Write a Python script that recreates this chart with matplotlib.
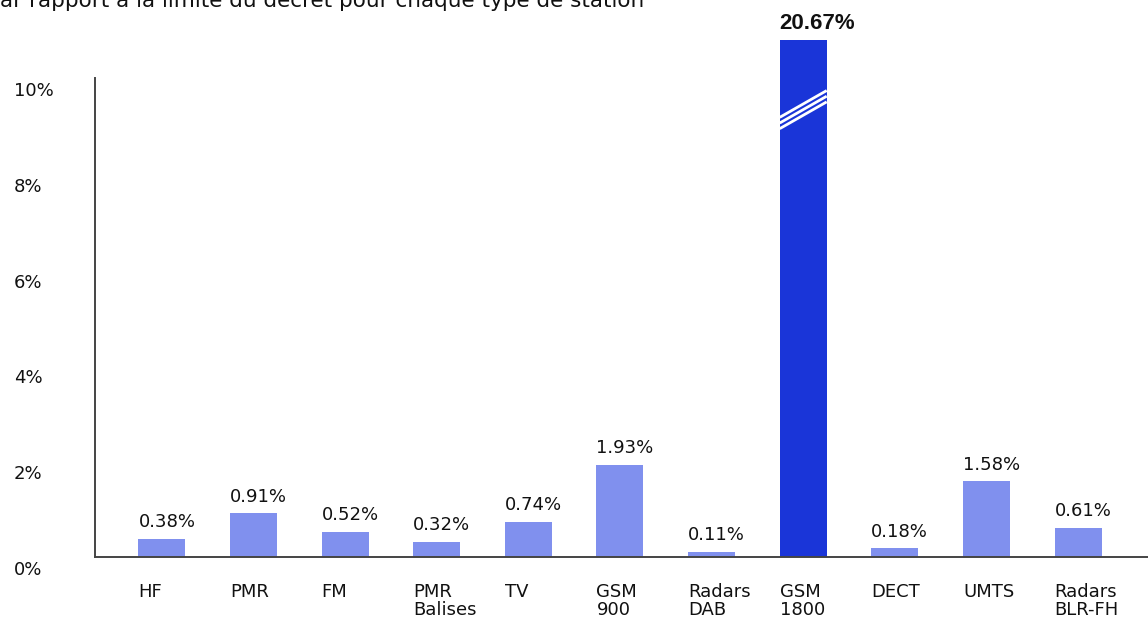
import numpy as np
import matplotlib.pyplot as plt
import matplotlib.transforms as mtransforms

# Data
categories = ["HF", "PMR", "FM", "PMR\nBalises", "TV", "GSM\n900", "Radars\nDAB",
              "GSM\n1800", "DECT", "UMTS", "Radars\nBLR-FH"]
values = [0.38, 0.91, 0.52, 0.32, 0.74, 1.93, 0.11, 20.67, 0.18, 1.58, 0.61]
value_labels = ["0.38%", "0.91%", "0.52%", "0.32%", "0.74%", "1.93%", "0.11%",
                "20.67%", "0.18%", "1.58%", "0.61%"]
y_ticks = [0, 2, 4, 6, 8, 10]
y_tick_labels = ["0%", "2%", "4%", "6%", "8%", "10%"]
caption = "ar rapport à la limite du décret pour chaque type de station"

plt.rcParams['font.family'] = ['DejaVu Sans']

W, H = 1148, 619
fig = plt.figure(figsize=(W / 100, H / 100), dpi=100)
ax = fig.add_axes([95 / W, 62 / H, 1 - 95 / W, 479 / H])

light = '#8090ee'
dark = '#1a35d8'
txt = '#111111'
cap = 10.8            # off-scale bar is drawn broken at this height
width = 0.513

x = np.arange(len(values))
vals = np.array(values)
shown = np.minimum(vals, cap)
colors = [dark if v > cap else light for v in vals]
ax.bar(x, shown, width=width, color=colors, clip_on=False, zorder=2)

# break marks on the off-scale bar
for i in np.where(vals > cap)[0]:
    xs = np.array([i - width / 2, i + width / 2])
    for k in (-1, 0, 1):
        base = cap - 1.74 + k * 0.118
        ax.plot(xs, [base, base + 0.56], color='white', lw=2.0,
                solid_capstyle='butt', zorder=3, clip_on=False)

# value labels, left-aligned on bar edge
for i, (h, lab) in enumerate(zip(shown, value_labels)):
    if vals[i] > cap:
        ax.annotate(lab, xy=(i - width / 2, h), xytext=(0, 8),
                    textcoords='offset points', ha='left', va='baseline',
                    fontsize=16, fontweight='bold', family='Liberation Sans',
                    color=txt, annotation_clip=False)
    else:
        ax.annotate(lab, xy=(i - width / 2, h), xytext=(0, 8.5),
                    textcoords='offset points', ha='left', va='baseline',
                    fontsize=13, color=txt, annotation_clip=False)

# category labels under the axis
for i, lab in enumerate(categories):
    ax.annotate(lab, xy=(i - width / 2, 0), xytext=(0, -18.5),
                textcoords='offset points', ha='left', va='top',
                fontsize=13, linespacing=1.0, color=txt,
                annotation_clip=False)

# y labels sit a little below their level, at the figure's left edge
ytrans = mtransforms.blended_transform_factory(fig.transFigure, ax.transData)
ytrans = ytrans + mtransforms.ScaledTranslation(0, -0.13, fig.dpi_scale_trans)
for v, lab in zip(y_ticks, y_tick_labels):
    fig.text(14 / W, v, lab, transform=ytrans, ha='left', va='center',
             fontsize=13, color=txt)

ax.set_xlim(-0.731, 10.764)
ax.set_ylim(0, 10)
ax.set_xticks([])
ax.set_yticks([])
for s in ['top', 'right']:
    ax.spines[s].set_visible(False)
for s in ['left', 'bottom']:
    ax.spines[s].set_color('#444444')
    ax.spines[s].set_linewidth(1.4)
ax.patch.set_visible(False)

# title line, cut off at the top of the picture
fig.text(0, 1 - 7 / H, caption, ha='left', va='baseline', fontsize=15.5,
         color=txt)

fig.savefig('out.png', dpi=100)
